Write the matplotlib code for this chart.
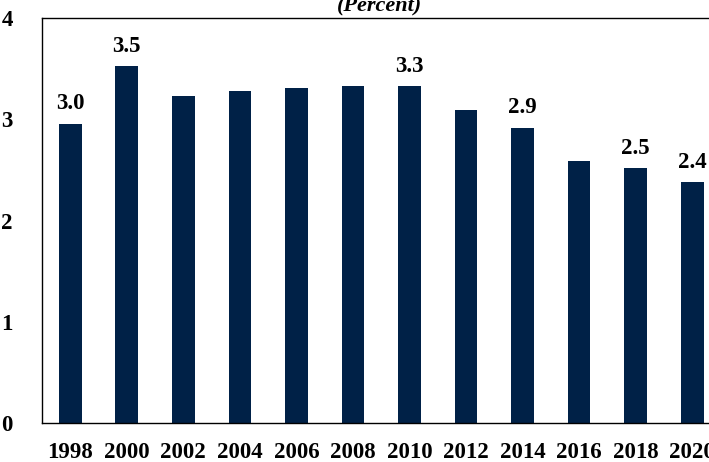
import numpy as np
import matplotlib.pyplot as plt

years = ['1998', '2000', '2002', '2004', '2006', '2008',
         '2010', '2012', '2014', '2016', '2018', '2020']
values = [2.96, 3.53, 3.23, 3.28, 3.31, 3.33,
          3.33, 3.09, 2.92, 2.59, 2.52, 2.38]
labels = ['3.0', '3.5', '', '', '', '', '3.3', '', '2.9', '', '2.5', '2.4']

plt.rcParams['font.family'] = ['Liberation Serif', 'DejaVu Serif']
plt.rcParams['font.weight'] = 'bold'

fig = plt.figure(figsize=(7.09, 4.62), dpi=100)
ax = fig.add_axes([0.0592, 0.0844, 0.957, 0.876])

x = np.arange(len(years))
ax.bar(x, values, width=0.4, color='#002147')

for xi, v, lab in zip(x, values, labels):
    if lab:
        ax.text(xi, v + 0.09, lab, ha='center', va='bottom',
                fontsize=16.5, fontweight='bold')

ax.set_xlim(-0.5, 11.5)
ax.set_ylim(0, 4)
ax.set_xticks(x)
ax.set_xticklabels(years, fontsize=16.5, fontweight='bold')
ax.set_yticks([0, 1, 2, 3, 4])
ax.set_yticklabels(['0', '1', '2', '3', '4'], fontsize=16.5, fontweight='bold')
ax.tick_params(axis='x', length=0, pad=14)
ax.tick_params(axis='y', length=0, pad=21)
for s in ax.spines.values():
    s.set_linewidth(1.0)
ax.spines['right'].set_visible(False)

fig.text(379 / 709, 1 - 11 / 462, '(Percent)', ha='center', va='baseline',
         fontsize=16, fontweight='bold', style='italic')

fig.savefig('out.png', dpi=100)
